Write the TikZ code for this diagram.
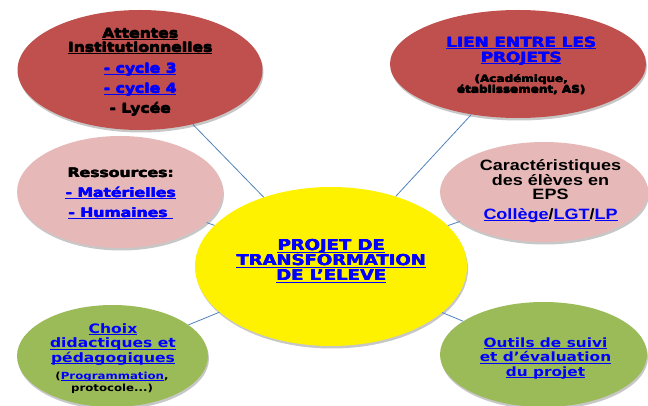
\documentclass[tikz,border=0pt]{standalone}
\usepackage{fontspec}
\usetikzlibrary{shapes.geometric,shadows}
\newfontfamily\fdv{DejaVu Sans}[FakeStretch=1.2]
\newfontfamily\fblk{DejaVu Sans Bold}[FakeStretch=1.2]
\newfontfamily\far{Liberation Sans}[FakeStretch=1.2]
\definecolor{dred}{HTML}{C0504D}
\definecolor{lpink}{HTML}{E6B9B8}
\definecolor{lgreen}{HTML}{9BBB59}
\definecolor{lnk}{HTML}{4F81BD}
\definecolor{hb}{HTML}{0000FF}
\newcommand\ulx[1]{\setbox0\hbox{#1}\rlap{\rule[-1.8pt]{\wd0}{0.9pt}}\box0}
\newcommand\hw[1]{\leavevmode\rlap{\kern0.6pt#1}\rlap{\kern0.3pt\raise0.35pt\hbox{#1}}#1}
\newcommand\bl[1]{{\color{hb}\ulx{#1}}}
\newcommand\bh[1]{{\color{hb}\ulx{\hw{#1}}}}
\newcommand\uh[1]{\ulx{\hw{#1}}}
\begin{document}
\begin{tikzpicture}[x=1pt,y=-1pt,
  ell/.style={ellipse, draw=none, inner sep=0pt,
    drop shadow={shadow xshift=1pt,shadow yshift=-2.5pt,opacity=0.22,fill=black}},
  txt/.style={align=center, inner sep=0pt},
  conn/.style={draw=lnk, line width=0.8pt}]
\useasboundingbox (0,0) rectangle (648,406);
% ellipses
\node[ell, fill=dred, minimum width=245pt, minimum height=120pt] (att) at (140,70) {};
\node[ell, fill=dred, minimum width=256pt, minimum height=108pt] (lien) at (518,64) {};
\node[ell, fill=lpink, minimum width=206pt, minimum height=112pt] (res) at (120,192) {};
\node[ell, fill=lpink, minimum width=208pt, minimum height=100pt] (car) at (544,192) {};
\node[ell, fill=yellow, minimum width=272pt, minimum height=159pt] (proj) at (331,266.5) {};
\node[ell, fill=lgreen, minimum width=191pt, minimum height=102pt] (choix) at (112.5,356) {};
\node[ell, fill=lgreen, minimum width=207pt, minimum height=105pt] (out) at (543.5,354.5) {};
% connectors
\draw[conn] (proj) -- (att);
\draw[conn] (proj) -- (lien);
\draw[conn] (proj) -- (res);
\draw[conn] (proj) -- (car);
\draw[conn] (proj) -- (choix);
\draw[conn] (proj) -- (out);
% texts
\node[txt, font=\fblk\fontsize{13}{14}\selectfont] (tatt) at (140,72)
  {\uh{Attentes}\\\uh{Institutionnelles}\\[7pt]\bh{- cycle 3}\\[6pt]\bh{- cycle 4}\\[6pt]\hw{- Lycée}};
\node[txt, font=\fblk\fontsize{14}{15}\selectfont] (tlien) at (521,51)
  {\bh{LIEN ENTRE LES}\\\bh{PROJETS}};
\node[txt, font=\fblk\fontsize{10}{10.5}\selectfont] (tlien2) at (521,84.5)
  {\hw{(Académique,}\\\hw{établissement, AS)}};
\node[txt, font=\fblk\fontsize{13}{20}\selectfont] (tres) at (120.5,193.5)
  {\hw{Ressources:}\\\bh{- Matérielles}\\\bh{- Humaines\ }};
\node[txt, font=\far\bfseries\fontsize{15}{13.5}\selectfont] (tcar) at (550.5,191)
  {Caractéristiques\\des élèves en\\EPS\\[6.5pt]\bl{Collège}/\bl{LGT}/\bl{LP}};
\node[txt, font=\fblk\fontsize{15}{15}\selectfont] (tproj) at (331,261)
  {\bh{PROJET DE}\\\bh{TRANSFORMATION}\\\bh{DE L’ELEVE}};
\node[txt, font=\fdv\bfseries\fontsize{13}{14.5}\selectfont] (tchoix) at (113,344.3)
  {\bl{Choix}\\\bl{didactiques et}\\\bl{pédagogiques}};
\node[txt, font=\fdv\bfseries\fontsize{9.8}{12}\selectfont] (tchoix2) at (112,382.5)
  {(\bl{Programmation},\\protocole...)};
\node[txt, font=\fdv\bfseries\fontsize{12.8}{14.5}\selectfont] (tout) at (545.5,358.3)
  {\bl{Outils de suivi}\\\bl{et d’évaluation}\\\bl{du projet}};
\end{tikzpicture}
\end{document}
